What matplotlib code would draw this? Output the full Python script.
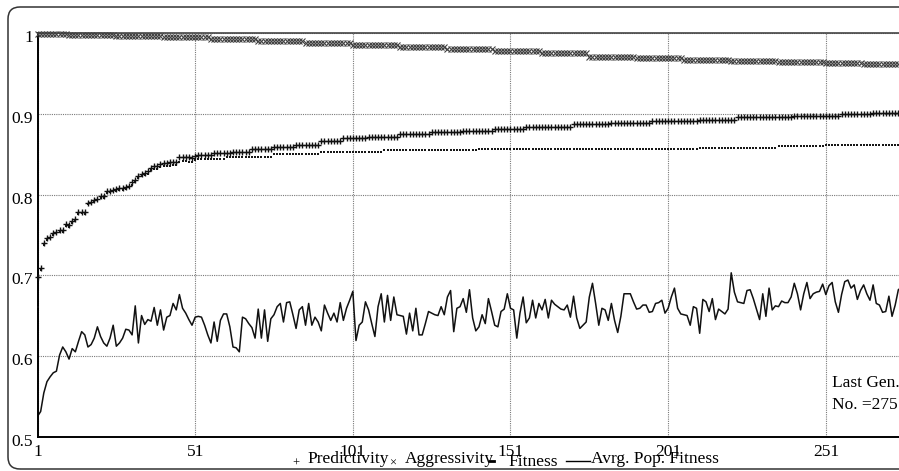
import numpy as np
import matplotlib
matplotlib.use("Agg")
import matplotlib.pyplot as plt
from matplotlib.patches import FancyBboxPatch
from matplotlib.lines import Line2D
import matplotlib.transforms as mtransforms

plt.rcParams['font.family'] = ['Liberation Serif', 'DejaVu Serif']

# ---------------- data ----------------
LAST_GEN = 275
X_TICKS = [1, 51, 101, 151, 201, 251]
Y_TICKS = [0.5, 0.6, 0.7, 0.8, 0.9, 1.0]
Y_TICK_LABELS = ["0.5", "0.6", "0.7", "0.8", "0.9", "1"]

# Predictivity: first 51 generations read individually, then plateau levels with run lengths
PRED_EARLY = [0.698, 0.709, 0.740, 0.746, 0.748, 0.752, 0.754, 0.756, 0.756, 0.763,
              0.762, 0.767, 0.770, 0.778, 0.779, 0.778, 0.790, 0.791, 0.793, 0.795,
              0.798, 0.798, 0.804, 0.805, 0.806, 0.807, 0.808, 0.808, 0.809, 0.811,
              0.815, 0.818, 0.823, 0.826, 0.827, 0.829, 0.833, 0.835, 0.836, 0.838,
              0.839, 0.839, 0.840, 0.841, 0.841, 0.846, 0.847, 0.847, 0.846, 0.845,
              0.848]
PRED_LEVELS = [0.849, 0.851, 0.853, 0.856, 0.859, 0.862, 0.866, 0.870, 0.872, 0.875,
               0.877, 0.879, 0.881, 0.884, 0.887, 0.889, 0.891, 0.893, 0.896, 0.898,
               0.900, 0.901]
PRED_RUNS = [5, 6, 6, 7, 7, 8, 7, 8, 10, 10, 10, 10, 10, 15, 12, 13, 15, 12, 18, 15, 10, 10]

# Fitness
FIT_EARLY = [0.660, 0.707, 0.738, 0.744, 0.746, 0.750, 0.752, 0.754, 0.754, 0.761,
             0.760, 0.765, 0.768, 0.776, 0.777, 0.776, 0.788, 0.789, 0.791, 0.793,
             0.796, 0.796, 0.802, 0.803, 0.804, 0.805, 0.806, 0.806, 0.807, 0.809,
             0.812, 0.815, 0.820, 0.823, 0.824, 0.826, 0.830, 0.832, 0.832, 0.834,
             0.835, 0.835, 0.836, 0.837, 0.837, 0.841, 0.842, 0.842, 0.841, 0.840,
             0.843]
FIT_LEVELS = [0.844, 0.847, 0.850, 0.853, 0.855, 0.856, 0.857, 0.858, 0.860, 0.862]
FIT_RUNS = [9, 15, 15, 20, 30, 35, 35, 25, 15, 25]

# Aggressivity: plateau levels with run lengths
AGG_LEVELS = [0.999, 0.998, 0.997, 0.995, 0.993, 0.991, 0.988, 0.986, 0.983, 0.981,
              0.978, 0.975, 0.971, 0.969, 0.967, 0.966, 0.965, 0.963, 0.962]
AGG_RUNS = [10, 15, 15, 15, 15, 15, 15, 15, 15, 15, 15, 15, 15, 15, 15, 15, 15, 12, 13]

# Average population fitness, one value per generation
AVG_FIT = [
    0.525, 0.531, 0.554, 0.568, 0.574, 0.579, 0.581, 0.601, 0.611, 0.605,
    0.596, 0.609, 0.605, 0.618, 0.630, 0.626, 0.611, 0.614, 0.622, 0.636,
    0.624, 0.616, 0.612, 0.622, 0.638, 0.612, 0.616, 0.622, 0.633, 0.632,
    0.626, 0.662, 0.616, 0.650, 0.639, 0.645, 0.643, 0.660, 0.638, 0.657,
    0.632, 0.648, 0.650, 0.665, 0.657, 0.676, 0.659, 0.653, 0.645, 0.638,
    0.648, 0.649, 0.648, 0.638, 0.626, 0.616, 0.642, 0.618, 0.644, 0.652,
    0.652, 0.636, 0.611, 0.610, 0.605, 0.648, 0.646, 0.640, 0.635, 0.622,
    0.658, 0.622, 0.657, 0.618, 0.646, 0.651, 0.661, 0.665, 0.642, 0.666,
    0.667, 0.651, 0.634, 0.657, 0.661, 0.638, 0.665, 0.638, 0.648, 0.642,
    0.631, 0.663, 0.653, 0.644, 0.653, 0.642, 0.666, 0.644, 0.659, 0.669,
    0.680, 0.619, 0.638, 0.642, 0.667, 0.657, 0.640, 0.624, 0.661, 0.677,
    0.642, 0.675, 0.644, 0.673, 0.651, 0.650, 0.649, 0.627, 0.653, 0.631,
    0.659, 0.626, 0.626, 0.640, 0.655, 0.653, 0.651, 0.650, 0.661, 0.651,
    0.673, 0.681, 0.630, 0.659, 0.661, 0.671, 0.654, 0.682, 0.647, 0.631,
    0.636, 0.651, 0.640, 0.671, 0.655, 0.638, 0.636, 0.655, 0.658, 0.677,
    0.659, 0.657, 0.622, 0.653, 0.673, 0.641, 0.647, 0.669, 0.647, 0.665,
    0.657, 0.670, 0.647, 0.669, 0.664, 0.661, 0.658, 0.657, 0.663, 0.648,
    0.674, 0.647, 0.634, 0.638, 0.642, 0.673, 0.690, 0.665, 0.638, 0.659,
    0.657, 0.644, 0.665, 0.644, 0.629, 0.649, 0.677, 0.677, 0.677, 0.667,
    0.658, 0.659, 0.663, 0.663, 0.654, 0.655, 0.665, 0.666, 0.669, 0.653,
    0.659, 0.673, 0.684, 0.659, 0.652, 0.651, 0.650, 0.638, 0.661, 0.659,
    0.628, 0.670, 0.667, 0.655, 0.671, 0.645, 0.658, 0.655, 0.652, 0.658,
    0.703, 0.679, 0.667, 0.666, 0.665, 0.681, 0.682, 0.671, 0.658, 0.645,
    0.677, 0.649, 0.684, 0.657, 0.662, 0.661, 0.668, 0.666, 0.666, 0.673,
    0.690, 0.677, 0.657, 0.677, 0.691, 0.671, 0.677, 0.679, 0.680, 0.689,
    0.676, 0.687, 0.691, 0.667, 0.654, 0.676, 0.692, 0.694, 0.684, 0.688,
    0.670, 0.681, 0.688, 0.677, 0.669, 0.688, 0.665, 0.663, 0.654, 0.655,
    0.674, 0.649, 0.663, 0.682, 0.685,
]

LEGEND_LABELS = ["Predictivity", "Aggressivity", "Fitness", "Avrg. Pop. Fitness"]

# ---------------- build series ----------------
gens = np.arange(1, LAST_GEN + 1)
pred = np.array(PRED_EARLY + list(np.repeat(PRED_LEVELS, PRED_RUNS)))
fit = np.array(FIT_EARLY + list(np.repeat(FIT_LEVELS, FIT_RUNS)))
agg = np.repeat(AGG_LEVELS, AGG_RUNS)
avg = np.array(AVG_FIT)

W, H = 899, 471
fig = plt.figure(figsize=(W / 100, H / 100), dpi=100)
fig.patch.set_facecolor('white')

# outer rounded frame
frame = FancyBboxPatch((0.08, 0.02), 9.3, 4.62,
                       boxstyle="round,pad=0,rounding_size=0.12",
                       transform=fig.dpi_scale_trans, fill=False,
                       edgecolor='#333333', linewidth=1.1, clip_on=False)
fig.patches.append(frame)

def px(x, y):
    return x / W, 1 - y / H

left, top = 37.5, 33.3
right, bottom = 901.5, 436.5
ax = fig.add_axes([left / W, 1 - bottom / H, (right - left) / W, (bottom - top) / H])
ax.set_xlim(1, LAST_GEN)
ax.set_ylim(0.5, 1.0)

ax.grid(True, color='#7a7a7a', linestyle=(0, (1, 1)), linewidth=0.8)
ax.set_axisbelow(True)

ax.plot(gens, agg, linestyle='none', marker='x', markersize=4.4,
        markeredgewidth=0.8, color='#404040', clip_on=False, zorder=3)
ax.plot(gens, pred, linestyle='none', marker='+', markersize=5,
        markeredgewidth=1.0, color='#111111', clip_on=False, zorder=3)
ax.plot(gens, fit, linestyle='none', marker='_', markersize=2.0,
        markeredgewidth=1.4, color='#111111', clip_on=False, zorder=3)
ax.plot(gens, avg, linestyle='-', linewidth=1.1, color='#111111', zorder=2)

ax.set_xticks(X_TICKS)
ax.set_xticklabels([str(t) for t in X_TICKS])
ax.set_yticks(Y_TICKS)
ax.set_yticklabels(Y_TICK_LABELS)
ax.tick_params(axis='both', length=0, labelsize=12.5, colors='black')
ax.tick_params(axis='x', pad=5.5)
ax.tick_params(axis='y', pad=3)
off = mtransforms.ScaledTranslation(0, -3 / 100, fig.dpi_scale_trans)
for lab in ax.get_yticklabels():
    lab.set_transform(lab.get_transform() + off)

for s in ['left', 'bottom']:
    ax.spines[s].set_color('black')
    ax.spines[s].set_linewidth(1.4)
ax.spines['top'].set_color('#444444')
ax.spines['top'].set_linewidth(1.2)
ax.spines['right'].set_visible(False)

# annotation
fig.text(*px(832, 383), "Last Gen.", fontsize=12.5, ha='left', va='center')
fig.text(*px(832, 405), "No. =%d" % LAST_GEN, fontsize=12.5, ha='left', va='center')

# legend row
fs = 12.5
fig.text(*px(296, 464), "+", fontsize=9, ha='center', va='center')
fig.text(*px(307, 459), LEGEND_LABELS[0], fontsize=fs, ha='left', va='center')
fig.text(*px(393, 464), "\u00d7", fontsize=9, ha='center', va='center')
fig.text(*px(405, 459), LEGEND_LABELS[1], fontsize=fs, ha='left', va='center')
fig.lines.append(Line2D([490 / W, 494 / W], [1 - 461 / H, 1 - 461 / H],
                        transform=fig.transFigure, color='black', linewidth=2))
fig.text(*px(508, 462), LEGEND_LABELS[2], fontsize=fs, ha='left', va='center')
fig.lines.append(Line2D([566 / W, 590 / W], [1 - 461 / H, 1 - 461 / H],
                        transform=fig.transFigure, color='black', linewidth=1))
fig.text(*px(591, 459), LEGEND_LABELS[3], fontsize=fs, ha='left', va='center')

fig.savefig("out.png", dpi=100)
